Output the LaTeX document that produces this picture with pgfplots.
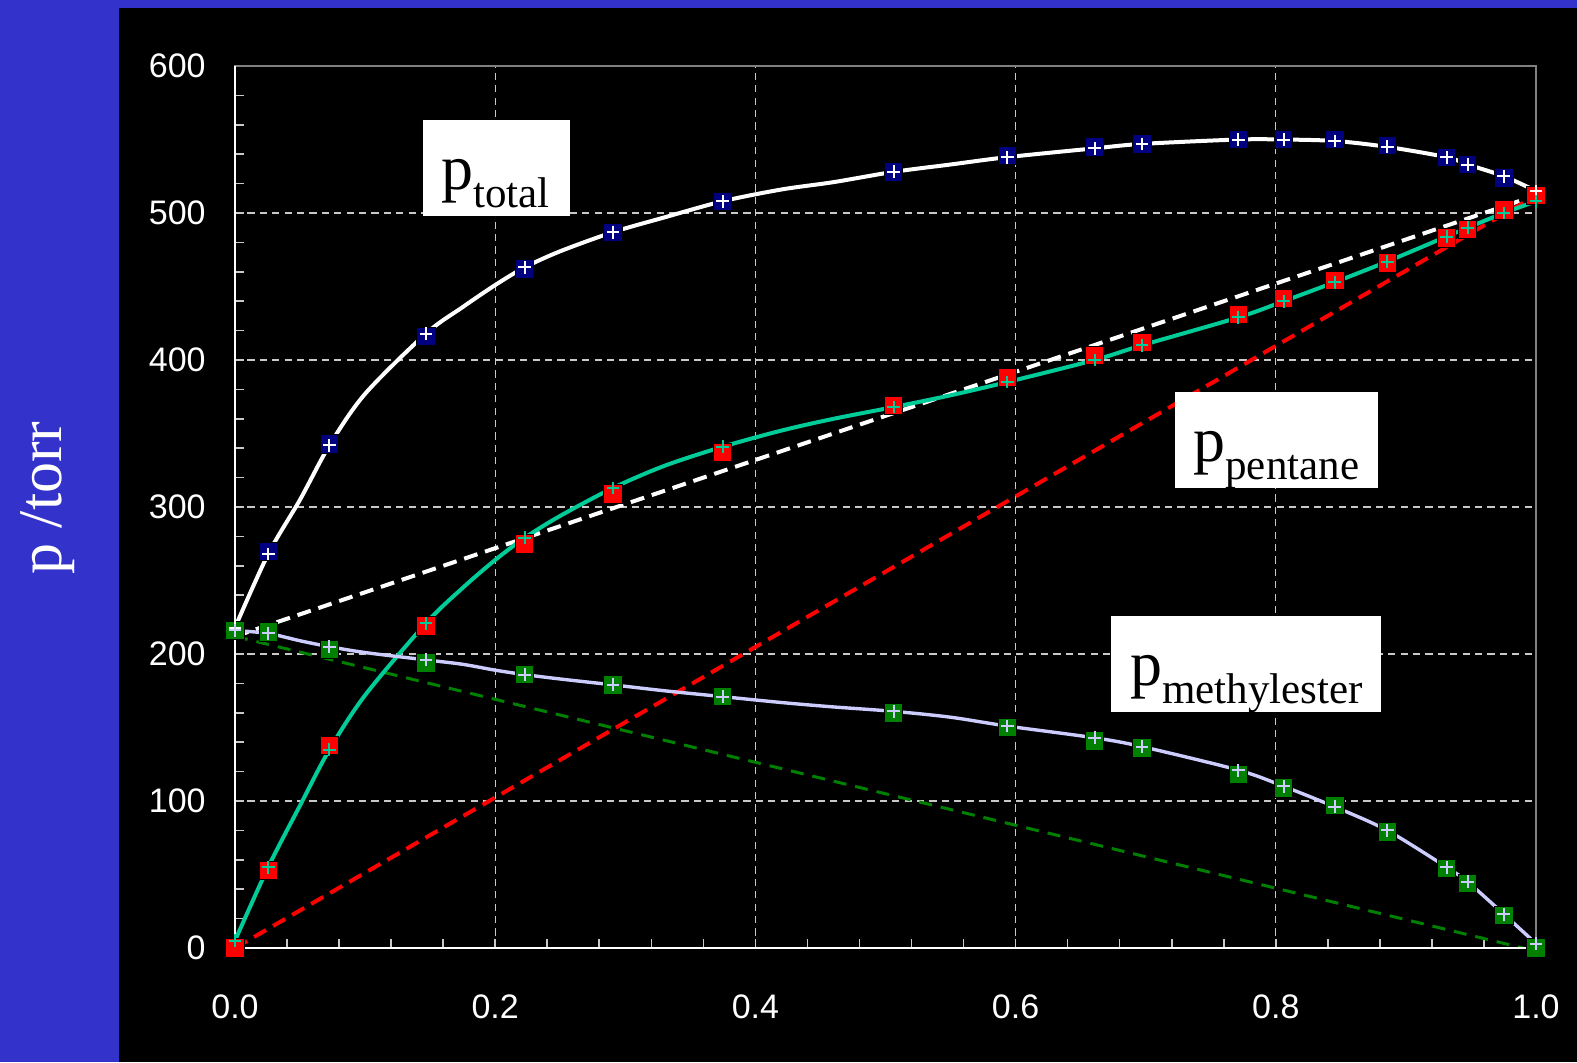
\documentclass[border=0pt]{standalone}
\usepackage{pgfplots}
\usepackage{pgfplotstable}
\pgfplotsset{compat=1.18}
\usepackage{fontspec}
\setmainfont{Liberation Serif}
\newfontfamily\arialfont{Liberation Sans}

\definecolor{slideblue}{RGB}{51,51,204}
\definecolor{navymark}{RGB}{0,0,128}
\definecolor{darkgreen}{RGB}{0,128,0}
\definecolor{tealfit}{RGB}{0,204,153}
\definecolor{lavfit}{RGB}{204,204,255}
\definecolor{gridgray}{RGB}{200,200,200}

% measured vapour pressures (torr) vs mole fraction of pentane
\pgfplotstableread{
x       tot  pen  met
0       216  0    216
0.0255  270  53   215
0.0726  343  138  203
0.1468  416  219  194
0.2226  462  275  186
0.2906  487  309  179
0.3748  508  337  171
0.5062  528  369  160
0.5935  539  388  150
0.6607  545  403  141
0.6971  547  412  136
0.7713  550  431  118
0.806   550  442  109
0.8454  550  454  97
0.8856  546  466  79
0.9312  538  483  54
0.9474  533  489  44
0.9753  524  502  22
1       512  512  0
}\measured

% fitted curves
\pgfplotstableread{
x       tot  pen  met
0       218  5    216
0.0255  268  55   214
0.05    305  97   209
0.0726  342  135  205
0.1     377  172  201
0.1468  418  221  196
0.175   436  245  193
0.2     451  264  189
0.2226  463  279  186
0.25    474  294  183
0.2906  487  313  179
0.33    497  328  175
0.3748  508  341  171
0.42    516  352  167
0.46    521  360  164
0.5062  528  368  161
0.55    533  376  157
0.5935  538  385  151
0.6607  544  400  143
0.6971  547  410  137
0.7713  550  429  121
0.806   550  440  110
0.8454  549  453  96
0.8856  545  467  80
0.9312  538  484  55
0.9474  533  490  45
0.9753  525  500  23
1       515  508  3
}\fitted

% fitted values at the measured compositions
\pgfplotstableread{
x       tot  pen  met
0       218  5    216
0.0255  268  55   214
0.0726  342  135  205
0.1468  418  221  196
0.2226  463  279  186
0.2906  487  313  179
0.3748  508  341  171
0.5062  528  368  161
0.5935  538  385  151
0.6607  544  400  143
0.6971  547  410  137
0.7713  550  429  121
0.806   550  440  110
0.8454  549  453  96
0.8856  545  467  80
0.9312  538  484  55
0.9474  533  490  45
0.9753  525  500  23
1       515  508  3
}\fitpts

\begin{document}
\begin{tikzpicture}
\useasboundingbox (-117.5pt,-57pt) rectangle (671pt,474pt);
\fill[slideblue] (-117.5pt,-57pt) rectangle (671pt,474pt);
\fill[black] (-58pt,-57pt) rectangle (671pt,470pt);

\begin{axis}[
  at={(0pt,0pt)}, anchor=south west,
  scale only axis, width=650.5pt, height=441pt,
  xmin=0, xmax=1, ymin=0, ymax=600,
  clip=false,
  axis line style={draw=gray, line width=1pt},
  xtick={0,0.2,0.4,0.6,0.8,1},
  ytick={0,100,200,300,400,500,600},
  minor x tick num=4, minor y tick num=4,
  xtick pos=bottom, ytick pos=left,
  tick align=inside,
  major tick length=4.5pt, minor tick length=4.5pt,
  every tick/.style={draw=gridgray, line width=0.8pt},
  grid=major,
  major grid style={draw=gridgray, line width=0.6pt, dash pattern=on 3.6pt off 2.6pt},
  /pgf/number format/assume math mode=true,
  ticklabel style={text=white, font=\arialfont\fontsize{17}{17}\selectfont},
  xticklabel style={anchor=base, inner sep=0pt, yshift=-35pt,
    /pgf/number format/.cd, fixed, fixed zerofill, precision=1},
  yticklabel style={anchor=east, inner sep=0pt, xshift=-14.5pt},
]

% measured points
\addplot[only marks, mark=square*, mark size=4.6pt, mark options={fill=navymark, draw=none}]
  table[x=x, y=tot] {\measured};
\addplot[only marks, mark=square*, mark size=4.6pt, mark options={fill=red, draw=none}]
  table[x=x, y=pen] {\measured};
\addplot[only marks, mark=square*, mark size=4.6pt, mark options={fill=darkgreen, draw=none}]
  table[x=x, y=met] {\measured};

% Raoult's law lines
\addplot[white, line width=2pt, dash pattern=on 7pt off 4pt] coordinates {(0,212) (1,512)};
\addplot[red, line width=2pt, dash pattern=on 7pt off 4pt] coordinates {(0,0) (1,512)};
\addplot[darkgreen, line width=1.5pt, dash pattern=on 6.5pt off 4.5pt] coordinates {(0,212) (0.99,0)};

% fitted curves
\addplot[white, line width=2pt, smooth] table[x=x, y=tot] {\fitted};
\addplot[tealfit, line width=2pt, smooth] table[x=x, y=pen] {\fitted};
\addplot[lavfit, line width=1.7pt, smooth] table[x=x, y=met] {\fitted};

% fitted values at measured compositions
\addplot[only marks, mark=+, mark size=3.2pt, mark options={draw=white, line width=1pt}]
  table[x=x, y=tot] {\fitpts};
\addplot[only marks, mark=+, mark size=3.2pt, mark options={draw=tealfit, line width=1pt}]
  table[x=x, y=pen] {\fitpts};
\addplot[only marks, mark=+, mark size=3.2pt, mark options={draw=lavfit, line width=1pt}]
  table[x=x, y=met] {\fitpts};

% left and bottom axis lines in white
\draw[white, line width=1pt] (rel axis cs:0,1) -- (rel axis cs:0,0) -- (rel axis cs:1,0);

% curve labels
\fill[white] (axis cs:0.1445,563.3) rectangle (axis cs:0.2575,498.0);
\node[anchor=base west, inner sep=0pt, text=black] at (axis cs:0.1583,516.3)
  {\fontsize{32}{32}\selectfont p\raisebox{-9pt}{\fontsize{21.5}{21.5}\selectfont total}};
\fill[white] (axis cs:0.7225,378.2) rectangle (axis cs:0.8786,312.9);
\node[anchor=base west, inner sep=0pt, text=black] at (axis cs:0.7364,331.3)
  {\fontsize{32}{32}\selectfont p\raisebox{-9pt}{\fontsize{21.5}{21.5}\selectfont pentane}};
\fill[white] (axis cs:0.6733,225.9) rectangle (axis cs:0.8809,160.5);
\node[anchor=base west, inner sep=0pt, text=black] at (axis cs:0.6879,178.9)
  {\fontsize{32}{32}\selectfont p\raisebox{-9pt}{\fontsize{21.5}{21.5}\selectfont methylester}};
\end{axis}

\node[rotate=90, anchor=base, inner sep=0pt, text=white, font=\fontsize{31}{31}\selectfont]
  at (-86.6pt,225pt) {p /torr};
\end{tikzpicture}
\end{document}
